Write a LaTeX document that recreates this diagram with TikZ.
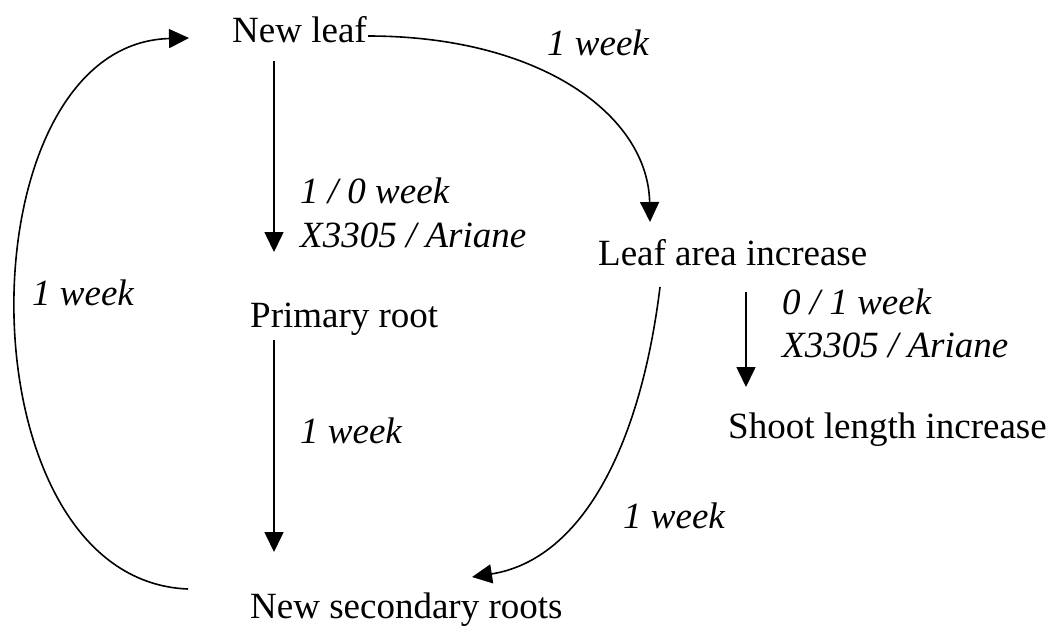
\documentclass[tikz,border=0pt]{standalone}
\usepackage{fontspec}
\setmainfont{Liberation Serif}
\usetikzlibrary{arrows.meta}
\begin{document}
\begin{tikzpicture}[x=1pt,y=-1pt,
  txt/.style={anchor=base west,inner sep=0pt,font=\fontsize{37}{44}\selectfont},
  lbl/.style={txt,font=\fontsize{37}{44}\selectfont\itshape},
  conn/.style={line width=1.6pt,-{Triangle[length=20pt,width=19pt]}},
  plain/.style={line width=1.6pt}]
\useasboundingbox (0,0) rectangle (1064,641);
% nodes
\node[txt] (nl) at (232,42) {New leaf};
\node[txt] (pr) at (250,327) {Primary root};
\node[txt] (ns) at (250,618) {New secondary roots};
\node[txt] (la) at (598,265) {Leaf area increase};
\node[txt] (sl) at (728,438) {Shoot length increase};
% labels
\node[lbl] (w1) at (547,55) {1 week};
\node[lbl] (w2a) at (300,203) {1 / 0 week};
\node[lbl] (w2b) at (300,247) {X3305 / Ariane};
\node[lbl] (w3) at (300,443) {1 week};
\node[lbl] (w4) at (32,305) {1 week};
\node[lbl] (w5a) at (782,314) {0 / 1 week};
\node[lbl] (w5b) at (782,357) {X3305 / Ariane};
\node[lbl] (w6) at (623,528) {1 week};
% connector ends
\coordinate (a1s) at (274,61);
\coordinate (a1e) at (274,252);
\coordinate (a2s) at (274,340);
\coordinate (a2e) at (274,552);
\coordinate (a3s) at (746,292);
\coordinate (a3e) at (746,387);
\coordinate (c1s) at (368,36);
\coordinate (c1e) at (650,222);
\coordinate (c2s) at (660,287);
\coordinate (c2e) at (472,577);
\coordinate (c3s) at (188,589);
\coordinate (c3e) at (189,38);
% connectors
\draw[conn] (a1s) -- (a1e);
\draw[conn] (a2s) -- (a2e);
\draw[conn] (a3s) -- (a3e);
\draw[conn] (c1s) .. controls (540,36) and (648,115) .. (c1e);
\draw[conn] (c2s) .. controls (640,450) and (580,560) .. (c2e);
\draw[conn] (c3s) .. controls (-42,580) and (-40,44) .. (c3e);
\end{tikzpicture}
\end{document}
